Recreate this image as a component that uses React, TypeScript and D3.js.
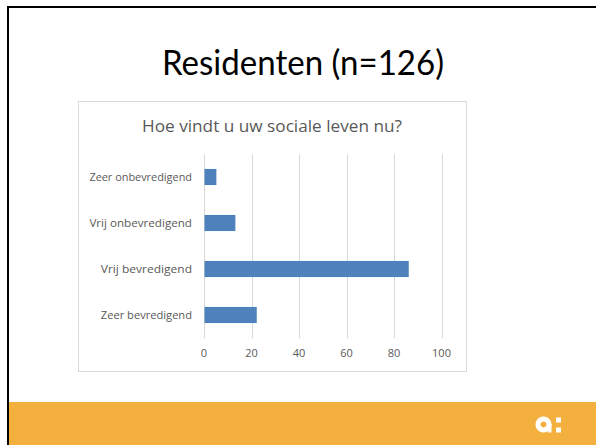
import * as d3 from "d3";

// survey answers (n=126)
const categories = ["Zeer onbevredigend", "Vrij onbevredigend", "Vrij bevredigend", "Zeer bevredigend"];
const counts = [5, 13, 86, 22];
const ticks = [0, 20, 40, 60, 80, 100];

const W = 596;
const H = 445;

// chart box inside the slide
const box = { x: 78, y: 101, w: 388, h: 270 };
const plot = { left: 204, right: 441.5, top: 154, bottom: 338 };

export default function App() {
  const x = d3.scaleLinear().domain([0, 100]).range([plot.left, plot.right]);
  const y = d3
    .scaleBand<string>()
    .domain(categories)
    .range([plot.top, plot.bottom])
    .paddingInner(0.65)
    .paddingOuter(0.325);

  const font = "'Open Sans', 'DejaVu Sans', sans-serif";

  return (
    <div style={{ position: "fixed", left: 0, top: 0 }}>
      <svg width={W} height={H} style={{ display: "block", background: "#fff" }}>
        {/* slide frame */}
        <rect x={7} y={6} width={W - 7} height={2} fill="#000" />
        <rect x={7} y={6} width={2} height={H - 6} fill="#000" />
        <rect x={9} y={402} width={W - 9} height={H - 402} fill="#F4B03E" />

        {/* logo */}
        <g fill="#fff">
          <path d="M543.5,416.5 a8,8 0 1 0 0.01,0 Z M543.5,421.5 a3,3 0 1 1 -0.01,0 Z" fillRule="evenodd" />
          <rect x={548} y={424} width={3.5} height={8.5} />
          <rect x={556} y={417.5} width={5} height={5} />
          <rect x={556} y={427.5} width={5} height={5} />
        </g>

        {/* slide title */}
        <text
          x={303}
          y={75}
          textAnchor="middle"
          fontFamily="Lato, 'Open Sans', sans-serif"
          fontSize={34}
          fill="#000"
          textLength={282}
          lengthAdjust="spacingAndGlyphs"
        >
          Residenten (n=126)
        </text>

        {/* chart area */}
        <rect x={box.x + 0.5} y={box.y + 0.5} width={box.w} height={box.h} fill="#fff" stroke="#d9d9d9" />
        <text
          x={box.x + box.w / 2}
          y={132}
          textAnchor="middle"
          fontFamily={font}
          fontSize={16.5}
          fill="#595959"
          textLength={260}
          lengthAdjust="spacingAndGlyphs"
        >
          Hoe vindt u uw sociale leven nu?
        </text>

        {ticks.map((t) => (
          <g key={t}>
            <line x1={Math.round(x(t)) + 0.5} x2={Math.round(x(t)) + 0.5} y1={plot.top} y2={plot.bottom} stroke="#d9d9d9" />
            <text x={x(t)} y={357} textAnchor="middle" fontFamily={font} fontSize={11} fill="#595959">
              {t}
            </text>
          </g>
        ))}

        {categories.map((c, i) => (
          <g key={c}>
            <rect x={x(0) + 0.5} y={y(c)} width={x(counts[i]) - x(0)} height={y.bandwidth()} fill="#4F81BD" />
            <text
              x={192}
              y={(y(c) ?? 0) + y.bandwidth() / 2}
              dy="0.35em"
              textAnchor="end"
              fontFamily={font}
              fontSize={10.5}
              fill="#595959"
              textLength={c.length * 5.7}
              lengthAdjust="spacingAndGlyphs"
            >
              {c}
            </text>
          </g>
        ))}
      </svg>
    </div>
  );
}
